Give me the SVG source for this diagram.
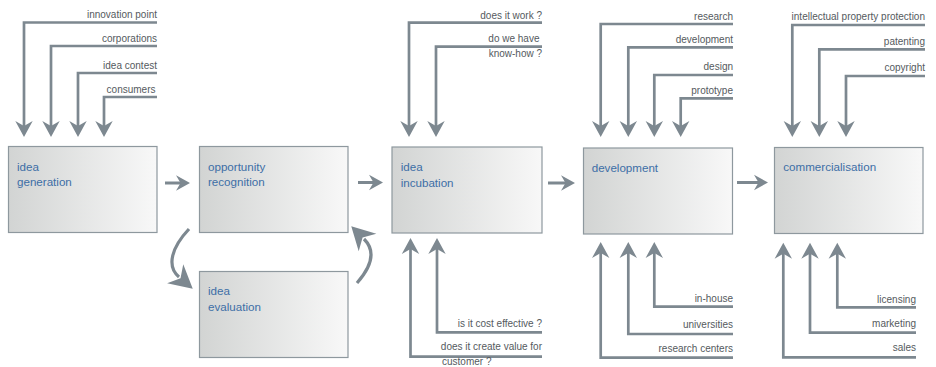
<svg xmlns="http://www.w3.org/2000/svg" width="936" height="367" viewBox="0 0 936 367">
<defs>
<linearGradient id="g" x1="0" y1="0" x2="1" y2="0">
<stop offset="0" stop-color="#d2d4d3"/>
<stop offset="1" stop-color="#f8f8f8"/>
</linearGradient>
<marker id="av" markerUnits="userSpaceOnUse" markerWidth="24" markerHeight="24" viewBox="-20 -12 24 24" refX="-8" refY="0" orient="auto">
<path d="M0,0 L-16,-8.7 L-11,0 L-16,8.7 Z" fill="#7d8890"/>
</marker>
<marker id="ah" markerUnits="userSpaceOnUse" markerWidth="24" markerHeight="24" viewBox="-20 -12 24 24" refX="-8" refY="0" orient="auto">
<path d="M0,0 L-14,-7.8 L-9.5,0 L-14,7.8 Z" fill="#7d8890"/>
</marker>
<marker id="ac" markerUnits="userSpaceOnUse" markerWidth="30" markerHeight="30" viewBox="-26 -15 30 30" refX="-18" refY="0" orient="auto">
<path d="M0,0 L-23,-12.5 L-16,0 L-23,12.5 Z" fill="#7d8890"/>
</marker>
</defs>
<style>
.box{fill:url(#g);stroke:#8e989e;stroke-width:1.2}
.bt{font-family:"Liberation Sans",Arial,sans-serif;font-size:11.6px;fill:#3d6ea6}
.lb{font-family:"Liberation Sans",Arial,sans-serif;font-size:10px;fill:#555a5e;text-anchor:end}
.c{fill:none;stroke:#7d8890;stroke-width:2.7}
.cv{marker-end:url(#av)}
.ch{marker-end:url(#ah);stroke-width:3}
.cc{marker-end:url(#ac);stroke-width:3.2}
</style>
<rect width="936" height="367" fill="#ffffff"/>
<g id="connectors">
<path class="c cv" d="M157,22.5 H24 V129"/>
<path class="c cv" d="M157,46 H51 V129"/>
<path class="c cv" d="M157,73 H78 V129"/>
<path class="c cv" d="M157,97 H104 V129"/>
<text class="lb" x="157" y="18.3">innovation point</text>
<text class="lb" x="157" y="41.7">corporations</text>
<text class="lb" x="157" y="69">idea contest</text>
<text class="lb" x="155.5" y="93">consumers</text>

<path class="c cv" d="M542,22.7 H409 V129"/>
<path class="c cv" d="M542,46.7 H436 V129"/>
<text class="lb" x="542" y="19.3">does it work ?</text>
<text class="lb" x="539.5" y="41.7">do we have</text>
<text class="lb" x="542" y="56.7">know-how ?</text>

<path class="c cv" d="M542,332.3 H437 V246"/>
<path class="c cv" d="M542,356.7 H410.5 V246"/>
<text class="lb" x="542" y="327.3">is it cost effective ?</text>
<text class="lb" x="542" y="350">does it create value for</text>
<text class="lb" x="442" y="365" style="text-anchor:start">customer ?</text>

<path class="c cv" d="M733,24 H600.7 V129"/>
<path class="c cv" d="M733,47.3 H628.3 V129"/>
<path class="c cv" d="M733,75 H654.3 V129"/>
<path class="c cv" d="M733,98.3 H680.7 V129"/>
<text class="lb" x="733" y="20">research</text>
<text class="lb" x="733" y="43.3">development</text>
<text class="lb" x="733" y="70">design</text>
<text class="lb" x="733" y="94">prototype</text>

<path class="c cv" d="M733,306.7 H654.3 V250"/>
<path class="c cv" d="M733,334 H628.3 V250"/>
<path class="c cv" d="M733,357.7 H600.7 V250"/>
<text class="lb" x="733" y="302.3">in-house</text>
<text class="lb" x="733" y="328.3">universities</text>
<text class="lb" x="733" y="351.7">research centers</text>

<path class="c cv" d="M925,25 H792.3 V129"/>
<path class="c cv" d="M925,49.3 H819.3 V129"/>
<path class="c cv" d="M925,76 H846 V129"/>
<text class="lb" x="925" y="20">intellectual property protection</text>
<text class="lb" x="925" y="45">patenting</text>
<text class="lb" x="925" y="71">copyright</text>

<path class="c cv" d="M916,307.3 H837.3 V250.7"/>
<path class="c cv" d="M916,332.7 H810 V250.7"/>
<path class="c cv" d="M916,357.3 H783.3 V250.7"/>
<text class="lb" x="916" y="302.7">licensing</text>
<text class="lb" x="916" y="327">marketing</text>
<text class="lb" x="916" y="350.5">sales</text>

<path class="c ch" d="M165,183 H182"/>
<path class="c ch" d="M358,182.5 H375"/>
<path class="c ch" d="M548,183 H567"/>
<path class="c ch" d="M737,182.5 H760"/>

<path class="c cc" d="M189,229 C172,247 166,266 179,277"/>
<path class="c cc" d="M357,283 C372,266 376,251 364,239"/>
</g>
<g id="idea-generation">
<rect class="box" x="8.5" y="146.5" width="148.5" height="86"/>
<text class="bt" x="17" y="170.7">idea</text>
<text class="bt" x="17" y="186.3">generation</text>
</g>
<g id="opportunity-recognition">
<rect class="box" x="199.5" y="146.5" width="148.5" height="86"/>
<text class="bt" x="208" y="170.7">opportunity</text>
<text class="bt" x="208" y="186.3">recognition</text>
</g>
<g id="idea-evaluation">
<rect class="box" x="199.5" y="271.5" width="148.5" height="86"/>
<text class="bt" x="208" y="295">idea</text>
<text class="bt" x="208" y="311">evaluation</text>
</g>
<g id="idea-incubation">
<rect class="box" x="392" y="147" width="150" height="86"/>
<text class="bt" x="400.7" y="170.7">idea</text>
<text class="bt" x="400.7" y="186.5">incubation</text>
</g>
<g id="development">
<rect class="box" x="583.5" y="148" width="149" height="86"/>
<text class="bt" x="591.7" y="172">development</text>
</g>
<g id="commercialisation">
<rect class="box" x="774.5" y="147.5" width="148.5" height="86"/>
<text class="bt" x="783.3" y="171">commercialisation</text>
</g>
</svg>
